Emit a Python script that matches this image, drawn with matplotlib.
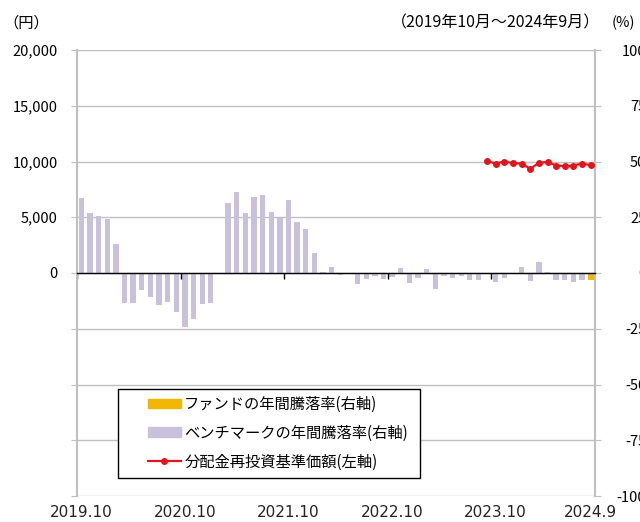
import numpy as np
import pandas as pd
import matplotlib
matplotlib.use("Agg")
import matplotlib.pyplot as plt
from matplotlib import font_manager
from matplotlib.patches import Patch, Rectangle
from matplotlib.lines import Line2D
from matplotlib.transforms import blended_transform_factory

# month categories 2019.10 - 2024.9
months = [f"{p.year}.{p.month}" for p in pd.period_range("2019-10", "2024-09", freq="M")]

# benchmark annual return (%), right axis
bench = [33.7, 27.0, 25.6, 24.1, 13.0, -13.3, -13.3, -7.8, -10.8, -14.5,
         -12.8, -17.5, -24.2, -20.8, -13.7, -13.3, 0.0, 31.6, 36.4, 26.8,
         34.2, 34.9, 27.3, 24.5, 32.7, 22.9, 19.9, 9.0, 0.6, 2.9,
         -0.75, 0.0, -4.9, -2.8, -1.5, -2.5, -1.9, 2.1, -4.6, -2.4,
         1.8, -7.3, -1.5, -2.4, -1.5, -3.3, -3.1, 0.0, -4.2, -2.4,
         -0.4, 2.7, -3.7, 4.8, 0.6, -3.3, -3.3, -4.2, -3.0, None]
# fund annual return (%), right axis
fund = [None] * 59 + [-3.3]

# NAV incl. reinvested distributions (yen), left axis, 2023.9 - 2024.9
nav_months = months[47:]
nav = [10030, 9820, 10000, 9850, 9820, 9340, 9880, 9970, 9640, 9580, 9640, 9820, 9670]

xlabel_months = ["2019.10", "2020.10", "2021.10", "2022.10", "2023.10", "2024.9"]
yen_ticks = [-20000, -15000, -10000, -5000, 0, 5000, 10000, 15000, 20000]
pct_ticks = [-100, -75, -50, -25, 0, 25, 50, 75, 100]

legend_labels = ["ファンドの年間騰落率(右軸)", "ベンチマークの年間騰落率(右軸)", "分配金再投資基準価額(左軸)"]

installed = {f.name for f in font_manager.fontManager.ttflist}
jp = "Noto Sans CJK JP"
narrow = "Liberation Sans Narrow" if "Liberation Sans Narrow" in installed else "DejaVu Sans"
plt.rcParams["font.family"] = [jp, "DejaVu Sans"]

c_bench = "#C9C1DC"
c_fund = "#F2B705"
c_nav = "#E0161E"
c_grid = "#BFBFBF"

fig = plt.figure(figsize=(6.4, 5.22), dpi=100)
ax = fig.add_axes([77 / 640, 1 - 496 / 522, 518 / 640, 446 / 522])
ax2 = ax.twinx()
ax.set_zorder(ax2.get_zorder() + 1)
ax.patch.set_visible(False)

x = np.arange(len(months))
bench_v = np.array([np.nan if v is None else v for v in bench])
fund_v = np.array([np.nan if v is None else v for v in fund])

# horizontal grid behind the bars
for t in pct_ticks:
    ax2.axhline(t, color=c_grid, lw=1, zorder=0.5)

ax2.bar(x, bench_v, width=0.62, color=c_bench, zorder=2)
ax2.bar(x, fund_v, width=0.7, color=c_fund, zorder=3)

nav_x = [months.index(m) for m in nav_months]
ax.plot(nav_x, nav, color=c_nav, lw=1.6, marker="o", ms=4, zorder=5)

ax.set_xlim(-0.5, len(months) - 0.5)
ax.set_ylim(-20000, 20000)
ax2.set_ylim(-100, 100)

ax2.set_yticks(pct_ticks)
ax2.set_yticklabels([str(t) for t in pct_ticks], fontsize=10.5, ha="right")
ax2.tick_params(axis="y", direction="out", length=4, color=c_grid, pad=33)

ax.set_yticks(yen_ticks)
ax.set_yticklabels([f"{t:,}" if t >= 0 else "" for t in yen_ticks], fontsize=10.5)
ax.tick_params(axis="y", direction="out", length=4, color=c_grid, pad=10)

# x ticks on zero line at year boundaries
ax.set_xticks([months.index(m) - 0.5 for m in xlabel_months[:-1]])
ax.set_xticklabels([])
ax.tick_params(axis="x", direction="out", length=4, width=1, color="black")
ax.spines["bottom"].set_position(("data", 0))
ax.spines["bottom"].set_color("black")
ax.spines["bottom"].set_linewidth(1)
ax.spines["left"].set_color(c_grid)
ax.spines["left"].set_linewidth(1.5)
for s in ["top", "right"]:
    ax.spines[s].set_visible(False)
for s in ["top", "left", "bottom"]:
    ax2.spines[s].set_visible(False)
ax2.spines["right"].set_color(c_grid)
ax2.spines["right"].set_linewidth(1.5)

trans = blended_transform_factory(ax.transData, ax.transAxes)
for m in xlabel_months:
    ax.text(months.index(m), -0.038, m, transform=trans, ha="center", va="center",
            fontsize=11, family=[narrow, "DejaVu Sans"], color="#222222")

# legend: frame drawn separately so the handles can sit further in
fig.add_artist(Rectangle((118 / 640, 1 - 478 / 522), 302 / 640, 89 / 522,
                         transform=fig.transFigure, facecolor="white",
                         edgecolor="black", lw=1, zorder=10))
handles = [Patch(color=c_fund), Patch(color=c_bench),
           Line2D([], [], color=c_nav, lw=1.6, marker="o", ms=4)]
leg = fig.legend(handles, legend_labels, loc="upper left",
                 bbox_to_anchor=(143 / 640, 1 - 391 / 522),
                 frameon=False, borderaxespad=0, borderpad=0.3, fontsize=11,
                 handlelength=2.2, handleheight=0.55, labelspacing=0.78,
                 handletextpad=0.2)
leg.set_zorder(11)

fig.text(26 / 640, 1 - 23 / 522, "（円）", ha="center", va="center", fontsize=11)
fig.text(600 / 640, 1 - 23 / 522, "（2019年10月～2024年9月）", ha="right", va="center", fontsize=11.5)
fig.text(612 / 640, 1 - 23 / 522, "(%)", ha="left", va="center", fontsize=10.5)

fig.savefig("out.png", dpi=100)
